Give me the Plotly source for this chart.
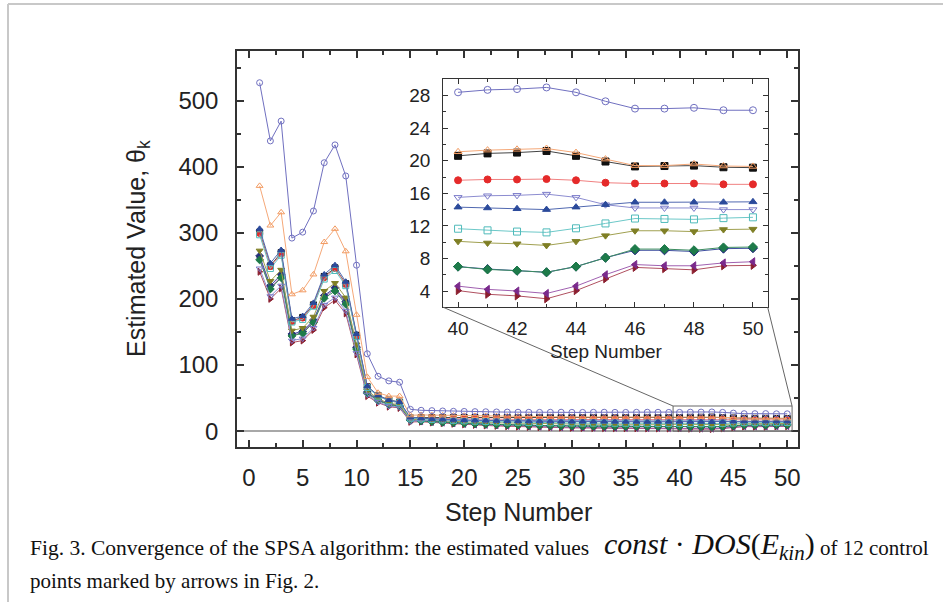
import plotly.graph_objects as go

steps = list(range(1, 51))

s_circle_open = [527, 439, 469, 292, 301, 333, 406, 433, 386, 251, 117, 83, 76, 74,
    33, 31.5, 31, 30.5, 30, 29.8, 29.5, 29.3, 29, 28.8, 28.6, 28.5, 28.4, 28.5, 28.6, 28.4, 28.3, 28.5, 28.6, 28.4, 28.3, 28.5, 28.6, 28.5, 28.3,
    28.4, 28.7, 28.8, 29.0, 28.4, 27.3, 26.4, 26.4, 26.5, 26.2, 26.2]
s_tri_open = [371, 311, 331, 207, 213, 237, 286, 306, 272, 176, 82, 58, 53, 53,
    24, 24.5, 24.2, 23.8, 23.5, 23.2, 23, 22.8, 22.5, 22.3, 22.1, 22, 21.8, 21.7, 21.6, 21.5, 21.4, 21.3, 21.2, 21.2, 21.1, 21.1, 21.0, 21.0, 21.0,
    21.1, 21.3, 21.4, 21.5, 21.0, 20.2, 19.4, 19.4, 19.6, 19.35, 19.3]
s_square = [301, 250, 270, 167, 172, 191, 234, 247, 223, 145, 67, 54, 47, 44,
    20, 20.5, 20.6, 20.5, 20.6, 20.7, 20.6, 20.5, 20.6, 20.6, 20.5, 20.6, 20.7, 20.6, 20.5, 20.6, 20.6, 20.7, 20.6, 20.5, 20.6, 20.6, 20.7, 20.6, 20.6,
    20.6, 20.9, 21.0, 21.2, 20.6, 19.9, 19.3, 19.35, 19.4, 19.2, 19.15]
s_circle = [299, 249, 268, 166, 171, 190, 232, 246, 222, 144, 67, 53, 46, 43,
    19, 19.3, 19.0, 18.8, 18.6, 18.5, 18.3, 18.2, 18.0, 17.9, 17.8, 17.8, 17.7, 17.7, 17.6, 17.6, 17.7, 17.6, 17.6, 17.5, 17.6, 17.6, 17.5, 17.6, 17.6,
    17.6, 17.7, 17.7, 17.75, 17.6, 17.3, 17.2, 17.2, 17.2, 17.1, 17.1]
s_tridown_open = [246, 204, 220, 137, 140, 156, 191, 202, 182, 118, 55, 44, 38, 36,
    15, 16.5, 16.8, 16.6, 16.5, 16.3, 16.2, 16.1, 16.0, 15.9, 15.8, 15.8, 15.7, 15.7, 15.6, 15.6, 15.5, 15.6, 15.5, 15.5, 15.6, 15.5, 15.5, 15.4, 15.5,
    15.5, 15.7, 15.75, 15.9, 15.5, 14.6, 14.2, 14.2, 14.2, 14.0, 14.0]
s_tri = [306, 254, 274, 170, 174, 194, 237, 251, 226, 147, 68, 54, 47, 44,
    21, 19.5, 18.5, 17.8, 17.2, 16.8, 16.4, 16.0, 15.7, 15.4, 15.2, 15.0, 14.9, 14.8, 14.6, 14.5, 14.5, 14.4, 14.4, 14.3, 14.3, 14.3, 14.2, 14.3, 14.3,
    14.3, 14.2, 14.1, 14.0, 14.3, 14.6, 14.9, 14.9, 14.9, 14.9, 14.95]
s_square_open = [297, 246, 266, 165, 169, 189, 230, 243, 220, 143, 66, 53, 46, 43,
    19.5, 18.5, 17.6, 16.9, 16.2, 15.6, 15.0, 14.5, 14.1, 13.7, 13.4, 13.1, 12.9, 12.7, 12.5, 12.4, 12.2, 12.1, 12.0, 11.9, 11.9, 11.8, 11.8, 11.7, 11.7,
    11.65, 11.45, 11.3, 11.2, 11.7, 12.3, 12.9, 12.85, 12.8, 12.95, 13.05]
s_tridown = [273, 227, 244, 152, 156, 173, 212, 224, 202, 131, 61, 49, 42, 40,
    18, 17, 16.1, 15.3, 14.6, 14.0, 13.4, 12.9, 12.5, 12.1, 11.8, 11.5, 11.3, 11.1, 10.9, 10.8, 10.6, 10.5, 10.4, 10.3, 10.3, 10.2, 10.2, 10.1, 10.1,
    10.1, 9.9, 9.8, 9.6, 10.1, 10.8, 11.4, 11.4, 11.3, 11.55, 11.6]
s_diamond_navy = [265, 220, 237, 147, 151, 168, 205, 217, 196, 127, 59, 47, 41, 38,
    17, 15.8, 14.7, 13.7, 12.8, 12.0, 11.3, 10.7, 10.1, 9.6, 9.2, 8.8, 8.5, 8.2, 8.0, 7.8, 7.6, 7.5, 7.4, 7.3, 7.2, 7.1, 7.1, 7.0, 7.0,
    7.0, 6.7, 6.5, 6.3, 7.0, 8.1, 9.0, 9.0, 8.85, 9.2, 9.25]
s_diamond_green = [259, 215, 232, 144, 148, 164, 201, 212, 192, 124, 57, 46, 40, 38,
    16.5, 15.5, 14.4, 13.4, 12.5, 11.8, 11.1, 10.5, 10.0, 9.5, 9.1, 8.7, 8.4, 8.1, 7.9, 7.7, 7.5, 7.4, 7.3, 7.2, 7.1, 7.1, 7.0, 7.0, 7.0,
    7.0, 6.65, 6.5, 6.3, 7.0, 8.1, 9.15, 9.15, 9.0, 9.35, 9.4]
s_trileft = [262, 217, 234, 145, 149, 166, 203, 215, 194, 126, 58, 47, 41, 38,
    16, 15, 13.9, 12.8, 11.8, 10.9, 10.1, 9.4, 8.7, 8.1, 7.6, 7.1, 6.7, 6.3, 6.0, 5.7, 5.5, 5.3, 5.1, 5.0, 4.9, 4.8, 4.7, 4.7, 4.6,
    4.6, 4.2, 4.0, 3.7, 4.6, 6.0, 7.25, 7.1, 7.1, 7.45, 7.6]
s_triright = [241, 200, 216, 134, 137, 153, 187, 198, 178, 116, 53, 43, 37, 35,
    14, 14.2, 13.1, 12.1, 11.1, 10.2, 9.4, 8.6, 7.9, 7.3, 6.8, 6.3, 5.9, 5.6, 5.3, 5.0, 4.8, 4.6, 4.5, 4.4, 4.3, 4.2, 4.1, 4.1, 4.0,
    4.05, 3.6, 3.4, 3.05, 4.05, 5.5, 6.9, 6.75, 6.6, 7.1, 7.15]

series = [
    (s_square, "square", "#111111", "#444444"),
    (s_circle, "circle", "#E52A2A", "#F08080"),
    (s_triright, "triangle-right", "#8B1E2E", "#B05060"),
    (s_trileft, "triangle-left", "#7A2A8C", "#A060B0"),
    (s_diamond_navy, "diamond", "#25307A", "#4050A0"),
    (s_diamond_green, "diamond", "#1E7B4A", "#3C8C60"),
    (s_tridown, "triangle-down", "#7F7F25", "#A0A050"),
    (s_tridown_open, "triangle-down-open", "#7878C8", "#8C8CD0"),
    (s_square_open, "square-open", "#4FBABA", "#6CC8C8"),
    (s_tri, "triangle-up", "#2B4A9B", "#5068B0"),
    (s_tri_open, "triangle-up-open", "#F29A60", "#F5A878"),
    (s_circle_open, "circle-open", "#7070C0", "#7070C0"),
]

inset_start = 40

W, H = 943, 602
L, R, T, B = 237, 145, 51, 155
PW, PH = W - L - R, H - T - B
def pxx(x):
    return (x - L) / PW
def pxy(y):
    return (H - B - y) / PH

x_range = [-1.1, 51.0]
y_range = [-24, 575]
inset_px = (443.3, 767.7, 79.3, 307.3)
inset_xdom = [pxx(inset_px[0]), pxx(inset_px[1])]
inset_ydom = [pxy(inset_px[3]), pxy(inset_px[2])]
zoom_box = (39.4, 50.45, 0, 38)

fig = go.Figure()
i0 = steps.index(inset_start)
for vals, sym, mc, lc in series:
    mk = dict(symbol=sym, size=6, color=mc, line=dict(color=mc, width=1))
    fig.add_trace(go.Scatter(x=steps, y=vals, mode="lines+markers",
                             line=dict(color=lc, width=1), marker=mk,
                             showlegend=False, hoverinfo="skip", xaxis="x", yaxis="y"))
    mk2 = dict(symbol=sym, size=7, color=mc, line=dict(color=mc, width=1))
    fig.add_trace(go.Scatter(x=steps[i0:], y=vals[i0:], mode="lines+markers",
                             line=dict(color=lc, width=1), marker=mk2,
                             showlegend=False, hoverinfo="skip", xaxis="x2", yaxis="y2"))

axis_common = dict(showline=True, linecolor="#333", linewidth=1.5, mirror="ticks",
                   ticks="inside", tickcolor="#333", tickwidth=1.5, showgrid=False,
                   tickfont=dict(family="Liberation Sans", size=24, color="#222"))

fig.update_layout(
    width=W, height=H, margin=dict(l=L, r=R, t=T, b=B),
    paper_bgcolor="white", plot_bgcolor="white",
    xaxis=dict(**axis_common, range=x_range, tickmode="linear", tick0=0, dtick=5,
               ticklen=7, zeroline=False, ticklabelstandoff=8,
               minor=dict(ticks="inside", ticklen=4, dtick=2.5, tick0=0, tickcolor="#333", tickwidth=1.5)),
    yaxis=dict(**axis_common, range=y_range, tickmode="linear", tick0=0, dtick=100,
               ticklen=7, zeroline=True, zerolinecolor="#A8A8A8", zerolinewidth=1.5,
               ticklabelstandoff=12,
               minor=dict(ticks="inside", ticklen=4, dtick=50, tick0=0, tickcolor="#333", tickwidth=1.5)),
    xaxis2=dict(showline=True, linecolor="#333", linewidth=1.2, mirror="ticks",
                ticks="inside", tickcolor="#333", tickwidth=1, showgrid=False,
                tickfont=dict(family="Liberation Sans", size=19, color="#222"),
                domain=inset_xdom, anchor="y2", range=[39.5, 50.5], tickmode="linear",
                tick0=40, dtick=2, ticklen=5, zeroline=False, ticklabelstandoff=4,
                minor=dict(ticks="inside", ticklen=3, dtick=1, tick0=40, tickcolor="#333")),
    yaxis2=dict(showline=True, linecolor="#333", linewidth=1.2, mirror="ticks",
                ticks="inside", tickcolor="#333", tickwidth=1, showgrid=False,
                tickfont=dict(family="Liberation Sans", size=19, color="#222"),
                domain=inset_ydom, anchor="x2", range=[2, 30], tickmode="linear",
                tick0=4, dtick=4, ticklen=5, zeroline=False, ticklabelstandoff=8,
                minor=dict(ticks="inside", ticklen=3, dtick=2, tick0=4, tickcolor="#333")),
)

def d2px(xv):
    return (xv - x_range[0]) / (x_range[1] - x_range[0])
def d2py(yv):
    return (yv - y_range[0]) / (y_range[1] - y_range[0])

shapes = [
    dict(type="rect", xref="x", yref="y", x0=zoom_box[0], x1=zoom_box[1], y0=zoom_box[2], y1=zoom_box[3],
         line=dict(color="#666", width=1)),
    dict(type="line", xref="paper", yref="paper", x0=inset_xdom[0], y0=inset_ydom[0],
         x1=d2px(zoom_box[0]), y1=d2py(zoom_box[3]), line=dict(color="#666", width=1)),
    dict(type="line", xref="paper", yref="paper", x0=inset_xdom[1], y0=inset_ydom[0],
         x1=d2px(zoom_box[1]), y1=d2py(zoom_box[3]), line=dict(color="#666", width=1)),
    dict(type="line", xref="paper", yref="paper", x0=pxx(8), x1=pxx(W), y0=pxy(4), y1=pxy(4),
         line=dict(color="#C8C8C8", width=2)),
    dict(type="line", xref="paper", yref="paper", x0=pxx(8), x1=pxx(8), y0=pxy(4), y1=pxy(H),
         line=dict(color="#C8C8C8", width=2)),
]
fig.update_layout(shapes=shapes)

sans = "Liberation Sans"
serif = "Liberation Serif"
ann = [
    dict(text="Estimated Value, θ<sub>k</sub>", x=pxx(138), y=pxy(249), textangle=-90,
         font=dict(family=sans, size=25, color="#222")),
    dict(text="Step Number", x=pxx(518), y=pxy(512), font=dict(family=sans, size=25, color="#222")),
    dict(text="Step Number", x=pxx(606), y=pxy(351), font=dict(family=sans, size=19, color="#222")),
    dict(text="Fig. 3. Convergence of the SPSA algorithm: the estimated values", x=pxx(28), y=pxy(548),
         xanchor="left", font=dict(family=serif, size=21.5, color="#111")),
    dict(text="<i>const</i> · <i>DOS</i>(<i>E</i><sub><i>kin</i></sub>)", x=pxx(709), y=pxy(546),
         xanchor="center", font=dict(family=serif, size=30, color="#111")),
    dict(text="of 12 control", x=pxx(931), y=pxy(548), xanchor="right",
         font=dict(family=serif, size=21, color="#111")),
    dict(text="points marked by arrows in Fig. 2.", x=pxx(28), y=pxy(581), xanchor="left",
         font=dict(family=serif, size=21, color="#111")),
]
for a in ann:
    a.setdefault("xanchor", "center")
    a.update(xref="paper", yref="paper", yanchor="middle", showarrow=False)
fig.update_layout(annotations=ann)

fig.write_html("out.html", config={"displayModeBar": False},
               post_script="document.body.style.margin='0px';document.body.style.overflow='hidden';")
